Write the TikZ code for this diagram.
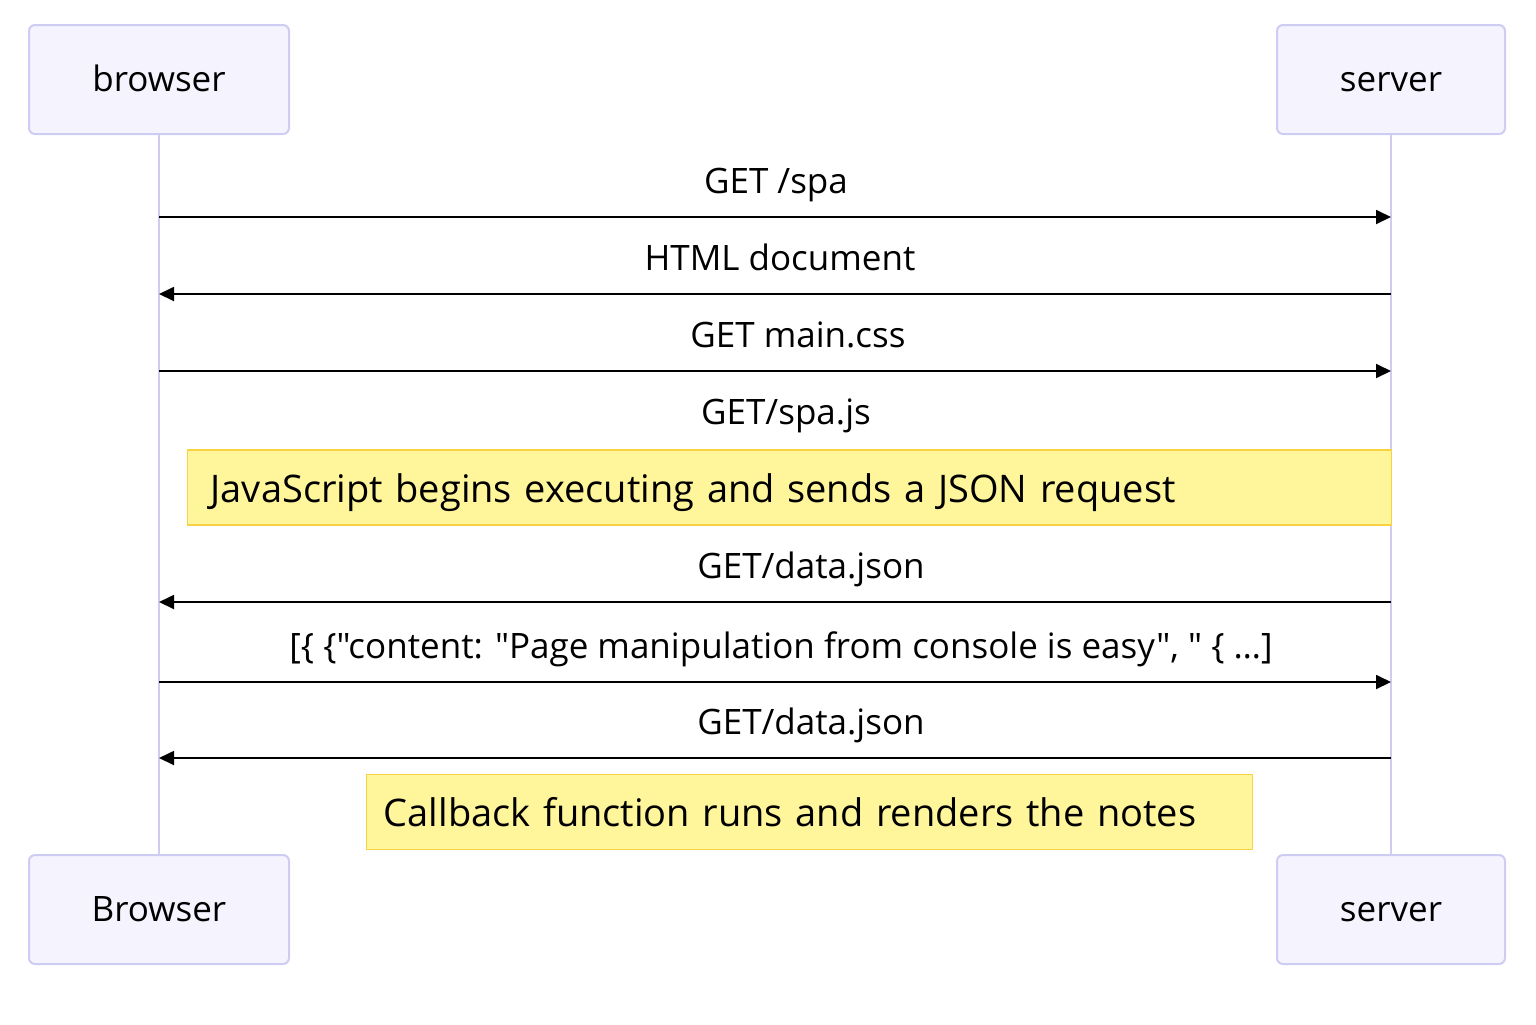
\documentclass[tikz,border=0pt]{standalone}
\usepackage{fontspec}
\setmainfont{Open Sans}[Ligatures=TeXOff]
\usetikzlibrary{arrows.meta,positioning}
\definecolor{actfill}{HTML}{F4F3FE}
\definecolor{actline}{HTML}{CFCCF4}
\definecolor{notefill}{HTML}{FFF59B}
\definecolor{noteline}{HTML}{F6D244}
\tikzset{actor/.style={draw=actline,fill=actfill,line width=1pt,rounded corners=3pt,minimum height=54.5pt,inner sep=0pt,text height=14pt,text depth=2.5pt,font=\fontsize{17.5}{21}\selectfont},
lifeline/.style={draw=actline,line width=.7pt},
msg/.style={line width=.9pt,-{Triangle[length=7.5pt,width=7pt]}},
msglabel/.style={anchor=base,inner sep=0pt,font=\fontsize{17.5}{21}\selectfont},
notebox/.style={draw=noteline,fill=notefill,line width=.7pt,anchor=west,align=left,minimum height=37.5pt,text height=17pt,text depth=2.5pt,font=\fontsize{19}{23}\selectfont}}
\begin{document}
\begin{tikzpicture}[x=.5pt,y=-.5pt]
\useasboundingbox (0,0) rectangle (1536,1024);
% actors
\node[actor,minimum width=130pt] (bt) at (159,79.5) {browser};
\node[actor,minimum width=114pt] (st) at (1391,79.5) {server};
\node[actor,minimum width=130pt] (bb) at (159,909.5) {Browser};
\node[actor,minimum width=114pt] (sb) at (1391,909.5) {server};
\draw[lifeline] (bt) -- (bb);
\draw[lifeline] (st) -- (sb);
% messages
\foreach \y/\from/\to/\lx/\txt [count=\i] in {217/bt/st/776/{GET /spa},294/st/bt/780/{HTML document},371/bt/st/798/{GET main.css},602/st/bt/811/{GET/data.json},682/bt/st/781/{[\{ \{"content: "Page manipulation from console is easy", " \{ …]},758/st/bt/811/{GET/data.json}}{
\draw[msg] (\from |- 0,\y) -- (\to |- 0,\y);
\node[msglabel] (m\i) at (\lx,\y-24) {\txt};}
\node[msglabel] (spa) at (786,424) {GET/spa.js};
% notes
\node[notebox,minimum width=602pt,text width=579pt,inner xsep=11.5pt] (n1) at (187,487.5) {JavaScript begins executing and sends a JSON request};
\node[notebox,minimum width=443pt,text width=426pt,inner xsep=8.5pt] (n2) at (366,812) {Callback function runs and renders the notes};
\end{tikzpicture}
\end{document}
